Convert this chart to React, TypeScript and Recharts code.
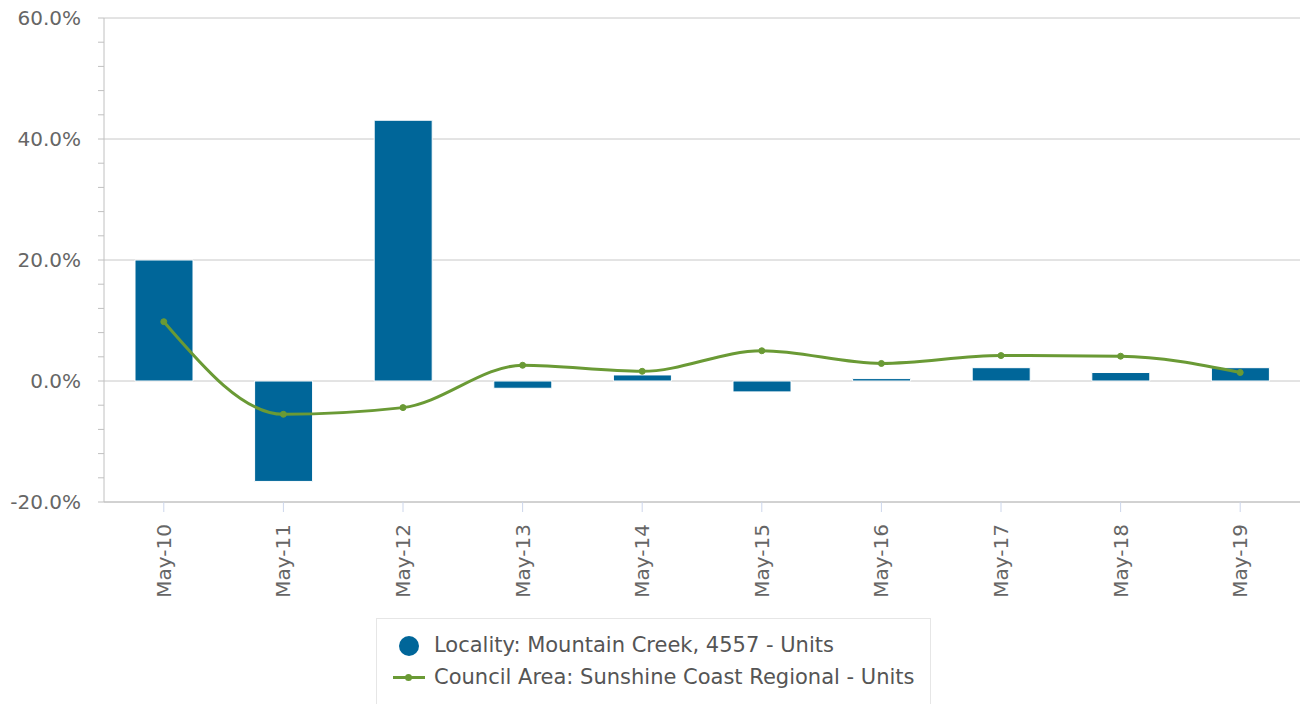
import { ComposedChart, Bar, Line, XAxis, YAxis, CartesianGrid } from 'recharts'

const periods = ['May-10', 'May-11', 'May-12', 'May-13', 'May-14', 'May-15', 'May-16', 'May-17', 'May-18', 'May-19']
const localityUnits = [20.0, -16.6, 43.1, -1.2, 1.0, -1.8, 0.4, 2.2, 1.4, 2.2]
const councilUnits = [9.8, -5.5, -4.4, 2.6, 1.6, 5.0, 2.9, 4.2, 4.1, 1.4]
const yTicks = [-20, -16, -12, -8, -4, 0, 4, 8, 12, 16, 20, 24, 28, 32, 36, 40, 44, 48, 52, 56, 60]
const yMajor = [-20, 0, 20, 40, 60]

const data = periods.map((period, i) => ({
  period,
  locality: localityUnits[i],
  council: councilUnits[i],
}))

const BLUE = '#006699'
const GREEN = '#6a9a35'
const FONT = '"DejaVu Sans", sans-serif'

const YTick = (props: any) => {
  const { x, y, payload } = props
  const major = payload.value % 20 === 0
  return (
    <g>
      <line x1={x - 6} x2={x} y1={y} y2={y} stroke="#c0c0c0" strokeWidth={1} />
      {major && (
        <text x={x - 23} y={y} dy="0.35em" textAnchor="end" fill="#666666" fontSize={20} fontFamily={FONT}>
          {payload.value.toFixed(1) + '%'}
        </text>
      )}
    </g>
  )
}

const XTick = (props: any) => {
  const { x, y, payload } = props
  return (
    <g>
      <line x1={x} x2={x} y1={y} y2={y + 10} stroke="#ccd6eb" strokeWidth={1} />
      <text
        x={x}
        y={y + 22}
        dy="0.35em"
        textAnchor="end"
        transform={`rotate(-90, ${x}, ${y + 22})`}
        fill="#666666"
        fontSize={20}
        fontFamily={FONT}
      >
        {payload.value}
      </text>
    </g>
  )
}

export default function App() {
  return (
    <div style={{ position: 'absolute', left: 0, top: 0, width: 1300, height: 704, background: '#fff', overflow: 'hidden' }}>
      <ComposedChart width={1300} height={704} data={data} margin={{ top: 18, right: 0, bottom: 0, left: 0 }}>
        <CartesianGrid horizontal vertical={false} horizontalValues={yMajor} stroke="#c8c8c8" />
        <XAxis
          dataKey="period"
          height={202}
          tick={<XTick />}
          tickSize={0}
          tickMargin={0}
          tickLine={false}
          axisLine={{ stroke: '#c0c0c0' }}
          interval={0}
        />
        <YAxis
          width={104}
          domain={[-20, 60]}
          ticks={yTicks}
          interval={0}
          tick={<YTick />}
          tickSize={0}
          tickMargin={0}
          tickLine={false}
          axisLine={{ stroke: '#c0c0c0' }}
        />
        <Bar dataKey="locality" fill={BLUE} stroke="#ffffff" strokeWidth={1} barSize={58} isAnimationActive={false} />
        <Line
          type="monotone"
          dataKey="council"
          stroke={GREEN}
          strokeWidth={3}
          dot={{ r: 3, fill: GREEN, stroke: GREEN, strokeWidth: 1 }}
          isAnimationActive={false}
        />
      </ComposedChart>
      <div
        style={{
          position: 'absolute',
          left: 376,
          top: 618,
          width: 555,
          height: 100,
          border: '1px solid #e6e6e6',
          boxSizing: 'border-box',
          fontFamily: FONT,
          fontSize: 21,
          color: '#555555',
        }}
      >
        <div style={{ position: 'absolute', left: 22, top: 17, width: 20, height: 20, borderRadius: 10, background: BLUE }} />
        <div style={{ position: 'absolute', left: 57, top: 13, lineHeight: '26px', whiteSpace: 'nowrap' }}>
          Locality: Mountain Creek, 4557 - Units
        </div>
        <div style={{ position: 'absolute', left: 16, top: 57, width: 32, height: 3, background: GREEN }} />
        <div style={{ position: 'absolute', left: 28, top: 55, width: 7, height: 7, borderRadius: 4, background: GREEN }} />
        <div style={{ position: 'absolute', left: 57, top: 45, lineHeight: '26px', whiteSpace: 'nowrap' }}>
          Council Area: Sunshine Coast Regional - Units
        </div>
      </div>
    </div>
  )
}
